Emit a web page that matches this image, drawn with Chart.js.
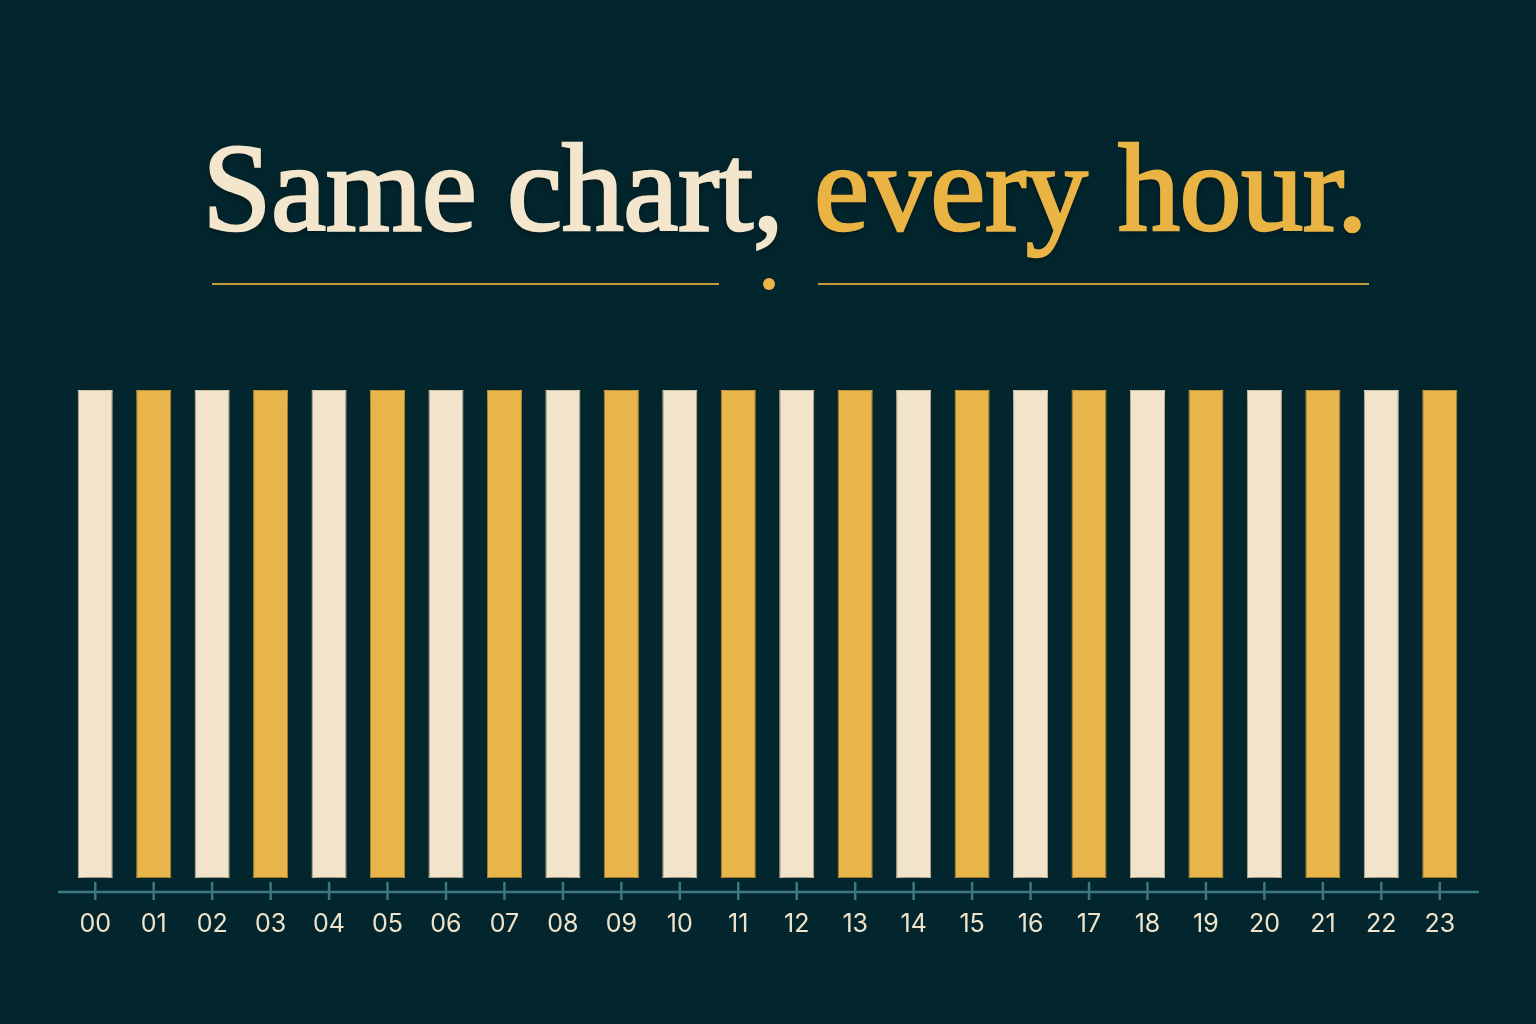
<!DOCTYPE html>
<html>
<head>
<meta charset="utf-8">
<script src="https://cdn.jsdelivr.net/npm/chart.js@4.4.1/dist/chart.umd.min.js"></script>
<style>
  html, body { margin: 0; padding: 0; background: #03262e; }
  body { width: 1536px; height: 1024px; position: relative; overflow: hidden; }
  #title {
    position: absolute; left: 0; top: 127px; width: 1536px;
    text-align: center; transform: translateX(17px);
    font-family: "Liberation Serif", "DejaVu Serif", serif; font-weight: 400;
    font-size: 124px; line-height: 124px; letter-spacing: -0.4px;
    color: #f3e6cc; white-space: nowrap;
    -webkit-text-stroke: 2.6px #f3e6cc;
    text-shadow: 0 3px 8px rgba(0,0,0,0.45);
  }
  #title .gold { color: #e9b444; -webkit-text-stroke: 2.6px #e9b444; }
  .rule { position: absolute; top: 283px; height: 2px; background: #c79a3a; }
  #dot { position: absolute; left: 763px; top: 278px; width: 12px; height: 12px; border-radius: 50%; background: #ebb644; }
  #wrap { position: absolute; left: 0; top: 0; width: 1536px; height: 1024px; }
</style>
</head>
<body>
<div id="title">Same chart, <span class="gold">every hour.</span></div>
<div class="rule" style="left:212px;width:507px;"></div>
<div id="dot"></div>
<div class="rule" style="left:818px;width:551px;"></div>
<div id="wrap"><canvas id="c"></canvas></div>
<script>
const hours = ["00","01","02","03","04","05","06","07","08","09","10","11","12","13","14","15","16","17","18","19","20","21","22","23"];
const barValues = [100,100,100,100,100,100,100,100,100,100,100,100,100,100,100,100,100,100,100,100,100,100,100,100];
const cream = "#f1e4ca";
const gold = "#e8b54a";
const creamEdge = "#e6d6b6";
const goldEdge = "#d6a23a";

const barColors = hours.map((h, i) => i % 2 === 0 ? cream : gold);
const edgeColors = hours.map((h, i) => i % 2 === 0 ? creamEdge : goldEdge);

const shadowPlugin = {
  id: 'barShadow',
  beforeDatasetsDraw(chart) {
    const ctx = chart.ctx;
    ctx.save();
    ctx.shadowColor = 'rgba(0,0,0,0.45)';
    ctx.shadowBlur = 10;
    ctx.shadowOffsetY = 3;
  },
  afterDatasetsDraw(chart) {
    chart.ctx.restore();
  }
};

const axisPlugin = {
  id: 'hourAxis',
  afterDraw(chart) {
    const ctx = chart.ctx;
    const area = chart.chartArea;
    const xs = chart.scales.x;
    const y = area.bottom + 14;
    ctx.save();
    ctx.strokeStyle = '#3c7880';
    ctx.lineWidth = 2.5;
    ctx.beginPath();
    ctx.moveTo(area.left - 8, y);
    ctx.lineTo(area.right + 10, y);
    ctx.stroke();
    for (let i = 0; i < hours.length; i++) {
      const x = xs.getPixelForTick(i);
      ctx.beginPath();
      ctx.moveTo(x, y - 10);
      ctx.lineTo(x, y + 8);
      ctx.stroke();
    }
    ctx.restore();
  }
};

new Chart(document.getElementById('c'), {
  type: 'bar',
  data: {
    labels: hours,
    datasets: [{
      data: barValues,
      backgroundColor: barColors,
      borderColor: edgeColors,
      borderWidth: 1,
      borderSkipped: false,
      barPercentage: 0.6,
      categoryPercentage: 1.0
    }]
  },
  options: {
    responsive: true,
    maintainAspectRatio: false,
    animation: false,
    layout: { padding: { top: 390, left: 66, right: 67, bottom: 54 } },
    plugins: { legend: { display: false }, tooltip: { enabled: false }, title: { display: false } },
    scales: {
      x: {
        grid: { display: false, drawTicks: false },
        border: { display: false },
        ticks: {
          color: '#efe4ca',
          font: { family: 'Inter, "Open Sans", sans-serif', size: 25 },
          padding: 31,
          maxRotation: 0,
          autoSkip: false
        }
      },
      y: {
        display: false,
        min: 0,
        max: 100
      }
    }
  },
  plugins: [shadowPlugin, axisPlugin]
});
</script>
</body>
</html>
